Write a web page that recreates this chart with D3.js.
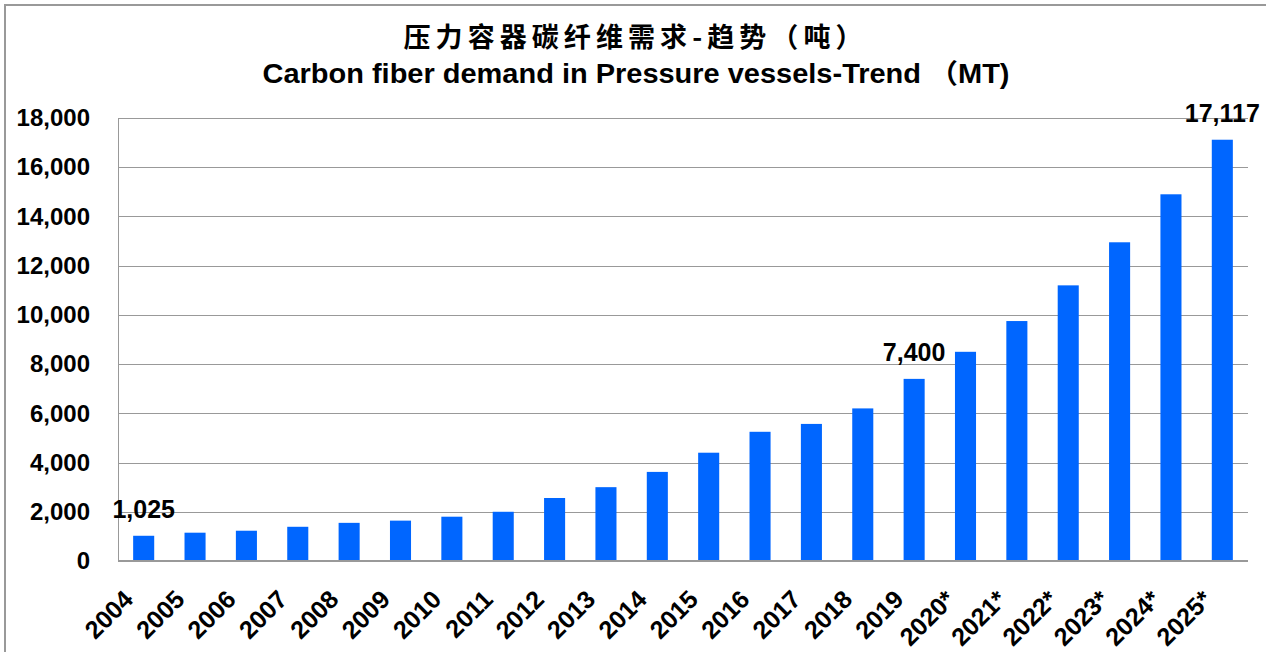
<!DOCTYPE html>
<html>
<head>
<meta charset="utf-8">
<script src="https://cdn.jsdelivr.net/npm/d3@7"></script>
<style>
  html, body { margin: 0; padding: 0; background: #fff; }
  svg { display: block; }
  text { font-family: "Liberation Sans", Arial, "Noto Sans CJK SC", sans-serif; font-weight: bold; fill: #000; }
</style>
</head>
<body>
<svg id="chart" width="1266" height="652"></svg>
<script>
// Carbon fiber demand in pressure vessels, metric tonnes per year (* = forecast)
const years = ["2004","2005","2006","2007","2008","2009","2010","2011","2012","2013","2014",
               "2015","2016","2017","2018","2019","2020*","2021*","2022*","2023*","2024*","2025*"];
const demand = [1025, 1150, 1230, 1390, 1550, 1640, 1800, 2000, 2560, 3000, 3620,
                4400, 5250, 5570, 6200, 7400, 8500, 9750, 11200, 12950, 14900, 17117];
// Years whose bars carry a value label
const labelledYears = ["2004", "2019", "2025*"];
const yTicks = [0, 2000, 4000, 6000, 8000, 10000, 12000, 14000, 16000, 18000];
const titleCN = "压力容器碳纤维需求-趋势（吨）";
const titleEN = "Carbon fiber demand in Pressure vessels-Trend （MT)";

const svg = d3.select("#chart");
const W = 1266, H = 652;
const plot = { left: 118, right: 1248, top: 118, bottom: 561 };

// outer frame
svg.append("rect")
  .attr("x", 5).attr("y", 5)
  .attr("width", W + 10).attr("height", H + 10)
  .attr("fill", "none").attr("stroke", "#999").attr("stroke-width", 2);

// titles
svg.append("text")
  .attr("x", 633).attr("y", 47)
  .attr("text-anchor", "middle")
  .style("font-family", "'Noto Sans CJK SC', sans-serif")
  .style("font-size", "27px")
  .attr("textLength", 459)
  .attr("lengthAdjust", "spacing")
  .text(titleCN);
svg.append("text")
  .attr("x", 636).attr("y", 83)
  .attr("text-anchor", "middle")
  .style("font-size", "27px")
  .attr("textLength", 747)
  .attr("lengthAdjust", "spacingAndGlyphs")
  .text(titleEN);

const x = d3.scaleBand()
  .domain(years)
  .range([plot.left, plot.right])
  .paddingInner(0.59)
  .paddingOuter(0.295);

const y = d3.scaleLinear()
  .domain([0, 18000])
  .range([plot.bottom, plot.top]);

// horizontal gridlines
svg.append("g")
  .selectAll("line")
  .data(yTicks.filter(d => d > 0))
  .join("line")
  .attr("x1", plot.left).attr("x2", plot.right)
  .attr("y1", d => Math.round(y(d)) + 0.5).attr("y2", d => Math.round(y(d)) + 0.5)
  .attr("stroke", "#999").attr("stroke-width", 1);

// y axis labels
const yAxis = d3.axisLeft(y)
  .tickValues(yTicks)
  .tickFormat(d3.format(","))
  .tickSize(0)
  .tickPadding(28);
const gy = svg.append("g")
  .attr("transform", `translate(${plot.left},0)`)
  .call(yAxis);
gy.select(".domain").remove();
gy.selectAll("text")
  .style("font-family", "'Liberation Sans', Arial, sans-serif")
  .style("font-size", "24px")
  .style("font-weight", "bold")
  .attr("fill", "#000");

// bars
svg.append("g")
  .selectAll("rect")
  .data(years.map((yr, i) => ({ yr, v: demand[i] })))
  .join("rect")
  .attr("x", d => x(d.yr))
  .attr("width", x.bandwidth())
  .attr("y", d => y(d.v))
  .attr("height", d => y(0) - y(d.v))
  .attr("fill", "#0066FF");

// axis lines
svg.append("line")
  .attr("x1", plot.left + 0.5).attr("x2", plot.left + 0.5)
  .attr("y1", plot.top).attr("y2", plot.bottom)
  .attr("stroke", "#999").attr("stroke-width", 1);
svg.append("line")
  .attr("x1", plot.left).attr("x2", plot.right)
  .attr("y1", plot.bottom).attr("y2", plot.bottom)
  .attr("stroke", "#999").attr("stroke-width", 2);

// x axis labels, rotated
const xAxis = d3.axisBottom(x).tickSize(0).tickPadding(0);
const gx = svg.append("g")
  .attr("transform", `translate(0,${plot.bottom})`)
  .call(xAxis);
gx.select(".domain").remove();
gx.selectAll(".tick text")
  .attr("y", 0).attr("dy", 0)
  .attr("text-anchor", "end")
  .attr("transform", "translate(-9,40) rotate(-45)")
  .style("font-family", "'Liberation Sans', Arial, sans-serif")
  .style("font-size", "25px")
  .style("font-weight", "bold")
  .attr("fill", "#000");

// value labels
svg.append("g")
  .selectAll("text")
  .data(years.map((yr, i) => ({ yr, v: demand[i] })).filter(d => labelledYears.includes(d.yr)))
  .join("text")
  .attr("x", d => x(d.yr) + x.bandwidth() / 2)
  .attr("y", d => y(d.v) - 18)
  .attr("text-anchor", "middle")
  .style("font-size", "25px")
  .text(d => d3.format(",")(d.v));
</script>
</body>
</html>
